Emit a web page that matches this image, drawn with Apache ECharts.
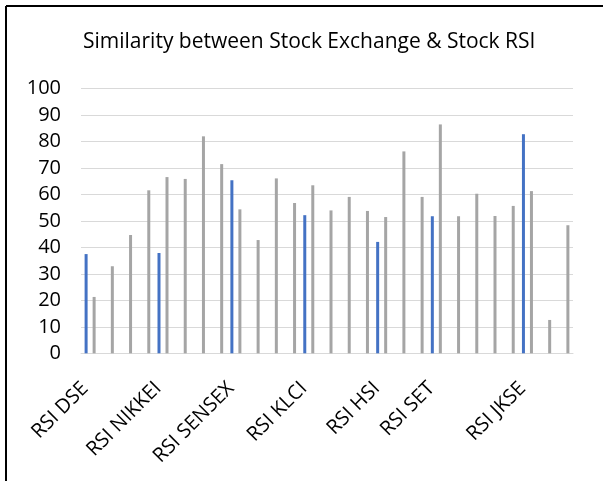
<!DOCTYPE html>
<html>
<head>
<meta charset="utf-8">
<script src="https://cdn.jsdelivr.net/npm/echarts@6/dist/echarts.min.js"></script>
<style>html,body{margin:0;padding:0;background:#fff}#c{width:608px;height:481px}</style>
</head>
<body>
<div id="c"></div>
<script>
const titleText = "Similarity between Stock Exchange & Stock RSI";
const categories = ["RSI DSE", "", "", "", "RSI NIKKEI", "", "", "", "RSI SENSEX", "", "", "", "RSI KLCI", "", "", "", "RSI HSI", "", "", "RSI SET", "", "", "", "", "RSI JKSE", "", ""];
const exchangeRSI = [37.5, null, null, null, 37.9, null, null, null, 65.4, null, null, null, 52.2, null, null, null, 42.1, null, null, 51.8, null, null, null, null, 82.8, null, null];
const stockRSI = [21.3, 32.9, 44.7, 61.6, 66.6, 65.9, 82.0, 71.5, 54.4, 42.8, 66.1, 56.8, 63.5, 54.0, 59.1, 53.8, 51.5, 76.3, 59.1, 86.5, 51.8, 60.3, 51.9, 55.7, 61.3, 12.6, 48.4];
const yTicks = {min: 0, max: 100, interval: 10};

const chart = echarts.init(document.getElementById('c'), null, {renderer: 'canvas'});
const font = 'Open Sans';
chart.setOption({
  animation: false,
  backgroundColor: '#fff',
  title: {
    text: titleText, left: 83, top: 32, padding: 0,
    textStyle: {fontFamily: font, fontSize: 21, fontWeight: 'normal', color: '#000'}
  },
  grid: {left: 81, right: 35, top: 88.7, bottom: 127.7, containLabel: false},
  xAxis: {
    type: 'category', data: categories,
    axisLine: {show: true, lineStyle: {color: '#D9D9D9', width: 1}},
    axisTick: {show: false},
    axisLabel: {interval: 0, rotate: 45, margin: 27, padding: [0, 7, 0, 0], fontFamily: font, fontSize: 20, color: '#000'}
  },
  yAxis: {
    type: 'value', min: yTicks.min, max: yTicks.max, interval: yTicks.interval,
    axisLine: {show: false}, axisTick: {show: false},
    splitLine: {lineStyle: {color: '#D9D9D9', width: 1}},
    axisLabel: {margin: 20, fontFamily: font, fontSize: 20, color: '#000'}
  },
  series: [
    {type: 'bar', name: 'Exchange RSI', data: exchangeRSI, barWidth: 3, barGap: '167%', itemStyle: {color: '#4472C4'}},
    {type: 'bar', name: 'Stock RSI', data: stockRSI, barWidth: 3, itemStyle: {color: '#A5A5A5'}}
  ],
  graphic: [
    {type: 'line', shape: {x1: 6, y1: 6, x2: 603, y2: 6}, style: {stroke: '#000', lineWidth: 2}},
    {type: 'line', shape: {x1: 6, y1: 6, x2: 6, y2: 481}, style: {stroke: '#000', lineWidth: 2}}
  ]
});
</script>
</body>
</html>
